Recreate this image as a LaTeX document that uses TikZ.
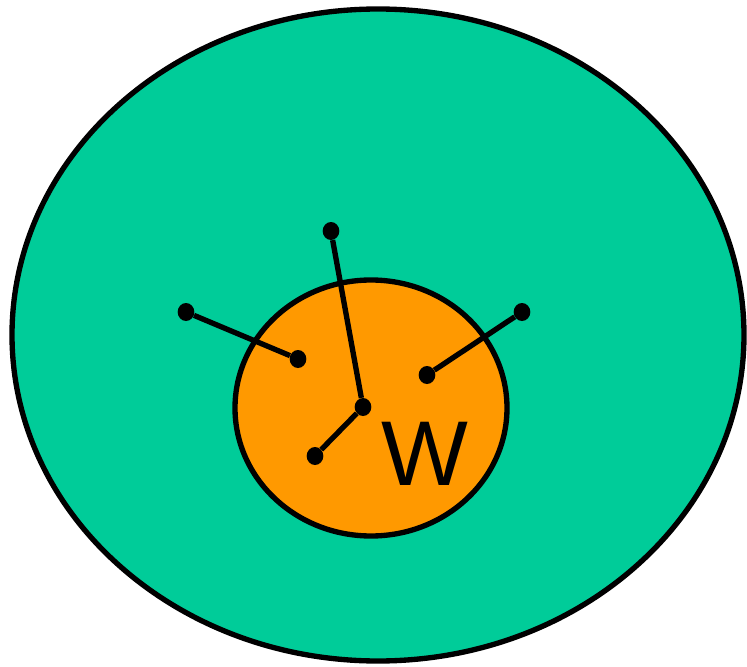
\documentclass[tikz,border=0pt]{standalone}
\usepackage{fontspec}
\setmainfont{Liberation Sans}
\usetikzlibrary{positioning,shapes.geometric}
\definecolor{CellGreen}{RGB}{0,204,153}
\definecolor{CoreOrange}{RGB}{255,153,0}

\tikzset{
    site/.style={ellipse, fill=black, inner sep=0pt, minimum width=12.5pt, minimum height=13.5pt},
    link/.style={line width=4pt, black}
}

\begin{document}
\begin{tikzpicture}[x=0.75pt, y=-0.75pt]
    \useasboundingbox (0,0) rectangle (747,667);
    \draw[fill=CellGreen, line width=4pt] (378,335) ellipse [x radius=366, y radius=326];
    \draw[fill=CoreOrange, line width=4pt] (371,408) ellipse [x radius=136, y radius=128];
    % sites
    \node[site] (far left) at (186,312) {};
    \node[site] (near left) at (298,359) {};
    \node[site] (top) at (331,231) {};
    \node[site] (hub) at (363,407) {};
    \node[site] (low) at (315,456) {};
    \node[site] (near right) at (427,375) {};
    \node[site] (far right) at (522,312) {};
    \draw[link] (far left) -- (near left);
    \draw[link] (top) -- (hub);
    \draw[link] (hub) -- (low);
    \draw[link] (near right) -- (far right);
    \node[font=\fontsize{69}{69}\selectfont, inner sep=0pt] (label) at (425,454) {W};
\end{tikzpicture}
\end{document}
